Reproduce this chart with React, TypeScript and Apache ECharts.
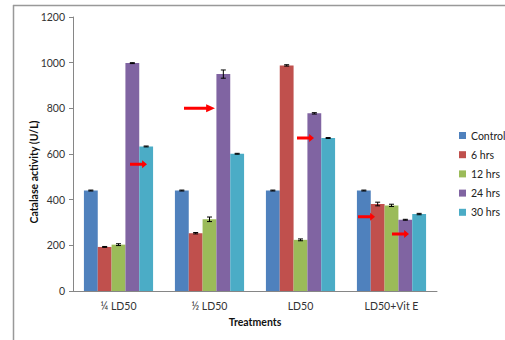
import React, { useEffect, useRef } from "react";
import * as echarts from "echarts";

const categories = ["¼ LD50", "½ LD50", "LD50", "LD50+Vit E"];
const seriesNames = ["Control", "6 hrs", "12 hrs", "24 hrs", "30 hrs"];
const control = [440, 440, 440, 440];
const hrs6 = [193, 253, 988, 381];
const hrs12 = [203, 314, 224, 375];
const hrs24 = [998, 950, 778, 312];
const hrs30 = [633, 601, 670, 337];
const err = [
  [2, 2, 2, 2],
  [2, 3, 3, 8],
  [4, 10, 4, 5],
  [2, 18, 3, 2],
  [2, 2, 2, 3],
];
const yTicks = { min: 0, max: 1200, interval: 200 };
// arrow annotations: category, value, horizontal offset (px), length (px)
const arrows = [
  { cat: 0, value: 555, dx: 20, len: 17 },
  { cat: 1, value: 800, dx: -10, len: 31 },
  { cat: 2, value: 670, dx: 5, len: 17 },
  { cat: 3, value: 325, dx: -25, len: 17 },
  { cat: 3, value: 250, dx: 9, len: 17 },
];

const colors = ["#4F81BD", "#C0504D", "#9BBB59", "#8064A2", "#4BACC6"];
const FONT = "Lato, 'Open Sans', sans-serif";
const CAT_GAP = 0.24;

export default function App() {
  const ref = useRef<HTMLDivElement>(null);
  useEffect(() => {
    if (!ref.current) return;
    const chart = echarts.init(ref.current, null, { renderer: "svg" });
    const values = [control, hrs6, hrs12, hrs24, hrs30];
    const barSeries = seriesNames.map((name, i) => ({
      name,
      type: "bar",
      data: values[i],
      itemStyle: { color: colors[i] },
      barGap: "0%",
      barCategoryGap: CAT_GAP * 100 + "%",
    }));
    const errData: any[] = [];
    values.forEach((vals, si) =>
      vals.forEach((v, ci) => errData.push([ci, v, err[si][ci], si]))
    );
    const errSeries = {
      type: "custom",
      name: "err",
      data: errData,
      z: 10,
      renderItem: (params: any, api: any) => {
        const ci = api.value(0);
        const v = api.value(1);
        const e = api.value(2);
        const si = api.value(3);
        const band = api.size([1, 0])[0];
        const gw = band * (1 - CAT_GAP);
        const bw = gw / 5;
        const c = api.coord([ci, v]);
        const x = c[0] - gw / 2 + bw * (si + 0.5);
        const yTop = api.coord([ci, v + e])[1];
        const yBot = api.coord([ci, v - e])[1];
        const cap = 2.5;
        const style = { stroke: "#000", lineWidth: 1 };
        return {
          type: "group",
          children: [
            { type: "line", shape: { x1: x, y1: yTop, x2: x, y2: yBot }, style },
            { type: "line", shape: { x1: x - cap, y1: yTop, x2: x + cap, y2: yTop }, style },
            { type: "line", shape: { x1: x - cap, y1: yBot, x2: x + cap, y2: yBot }, style },
          ],
        };
      },
    };
    const arrowSeries = {
      type: "scatter",
      name: "arrows",
      z: 20,
      data: arrows.map((a) => ({
        value: [a.cat, a.value],
        symbolSize: [a.len, 8],
        symbolOffset: [a.dx, 0],
      })),
      symbol: "path://M0,2.5 L10,2.5 L10,0 L14,4 L10,8 L10,5.5 L0,5.5 Z",
      symbolKeepAspect: false,
      itemStyle: { color: "#FF0000", opacity: 1 },
    };
    chart.setOption({
      animation: false,
      backgroundColor: "#fff",
      textStyle: { fontFamily: FONT },
      grid: { left: 73, right: 68, top: 17, bottom: 49 },
      legend: {
        data: seriesNames,
        orient: "vertical",
        left: 454,
        top: 125,
        itemWidth: 7,
        itemHeight: 7,
        itemGap: 8.2,
        icon: "rect",
        textStyle: { fontSize: 10.5, color: "#222", fontFamily: FONT },
      },
      xAxis: {
        type: "category",
        data: categories,
        axisLine: { show: true, lineStyle: { color: "#868686", width: 1 } },
        axisTick: { show: false },
        axisLabel: { fontSize: 10.5, color: "#333", margin: 9, fontFamily: FONT },
      },
      yAxis: {
        type: "value",
        min: yTicks.min,
        max: yTicks.max,
        interval: yTicks.interval,
        axisLine: { show: true, lineStyle: { color: "#868686", width: 1 } },
        axisTick: { show: true, length: 4, lineStyle: { color: "#868686" } },
        splitLine: { show: false },
        axisLabel: {
          fontSize: 10.5,
          color: "#333",
          margin: 8,
          fontFamily: FONT,
          formatter: (v: number) => String(v),
        },
      },
      graphic: [
        { type: "line", shape: { x1: 13, y1: 5.5, x2: 505, y2: 5.5 }, style: { stroke: "#999", lineWidth: 1.5 } },
        { type: "line", shape: { x1: 13.5, y1: 5, x2: 13.5, y2: 340 }, style: { stroke: "#999", lineWidth: 1.5 } },
        {
          type: "text",
          x: 34,
          y: 172,
          rotation: Math.PI / 2,
          style: {
            text: "Catalase activity (U/L)",
            fontSize: 10.5,
            fontWeight: "bold",
            fontFamily: FONT,
            fill: "#111",
            align: "center",
            verticalAlign: "middle",
          },
        },
        {
          type: "text",
          x: 255,
          y: 322,
          style: {
            text: "Treatments",
            fontSize: 10.5,
            fontWeight: "bold",
            fontFamily: FONT,
            fill: "#111",
            align: "center",
            verticalAlign: "middle",
          },
        },
      ],
      series: [...barSeries, errSeries, arrowSeries],
    });
    return () => chart.dispose();
  }, []);
  return (
    <div
      ref={ref}
      style={{ position: "absolute", left: 0, top: 0, width: 505, height: 340 }}
    />
  );
}
